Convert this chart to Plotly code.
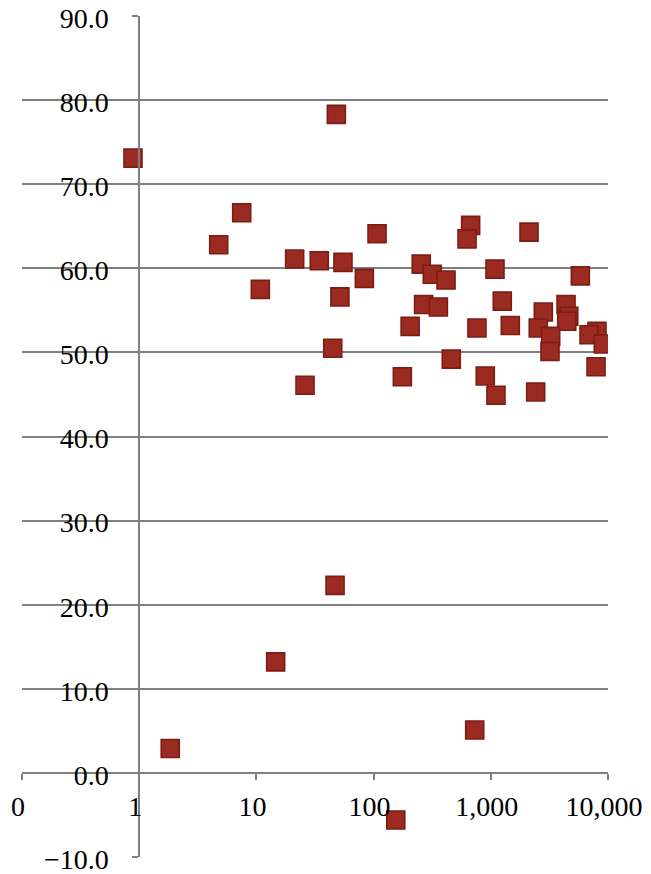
import plotly.graph_objects as go

# Sample measurements: x on a log scale, y in percent
x_values = [0.885, 48.1, 7.49, 4.77, 21.2, 34.4, 54.8, 10.8, 83.4, 51.6,
            44.8, 26.0, 107, 673, 627, 2119, 255, 317, 415, 1086,
            5808, 267, 357, 1253, 4385, 2806, 4627, 4446, 205, 762,
            1467, 2541, 3245, 3200, 8054, 6890, 9120, 7906, 460, 176,
            897, 1107, 2414, 46.9, 14.6, 1.84, 729, 154.6]
y_values = [73.1, 78.3, 66.6, 62.8, 61.1, 60.9, 60.7, 57.5, 58.8, 56.6,
            50.5, 46.1, 64.1, 65.1, 63.5, 64.3, 60.5, 59.3, 58.6, 59.9,
            59.1, 55.7, 55.4, 56.1, 55.7, 54.8, 54.3, 53.7, 53.1, 52.9,
            53.2, 52.9, 51.9, 50.1, 52.5, 52.1, 51.0, 48.3, 49.2, 47.1,
            47.2, 44.9, 45.3, 22.3, 13.2, 2.9, 5.1, -5.6]

x_tick_vals = [0.1, 1, 10, 100, 1000, 10000]
x_tick_text = ["0", "1", "10", "100", "1,000", "10,000"]
y_tick_vals = [-10, 0, 10, 20, 30, 40, 50, 60, 70, 80, 90]

AXIS_GRAY = "#7f7f7f"
FONT = dict(family="Liberation Serif", size=28, color="#000000")

fig = go.Figure(
    go.Scatter(
        x=x_values,
        y=y_values,
        mode="markers",
        marker=dict(symbol="square", size=18, color="#9b2b20",
                    line=dict(color="#7d1c14", width=1.6)),
        hoverinfo="x+y",
    )
)

fig.update_layout(
    width=651,
    height=874,
    margin=dict(l=22, r=43, t=16, b=17, autoexpand=False),
    paper_bgcolor="white",
    plot_bgcolor="white",
    showlegend=False,
    font=FONT,
    xaxis=dict(
        type="log",
        range=[-1, 4],
        anchor="free",
        position=0.1,  # axis crosses at y = 0
        tickvals=x_tick_vals,
        ticktext=x_tick_text,
        showgrid=False,
        showline=True,
        linecolor=AXIS_GRAY,
        linewidth=1.6,
        ticks="outside",
        ticklen=6,
        tickwidth=1.6,
        tickcolor=AXIS_GRAY,
        tickfont=FONT,
        ticklabelstandoff=3,
        ticklabelshift=-4,
        automargin=False,
        zeroline=False,
    ),
    yaxis=dict(
        range=[-10.0001, 90.0001],
        tickmode="array",
        tickvals=y_tick_vals,
        tickformat=".1f",
        anchor="free",
        position=0.2,  # axis crosses at x = 1
        showgrid=True,
        gridcolor=AXIS_GRAY,
        gridwidth=1.6,
        showline=True,
        linecolor=AXIS_GRAY,
        linewidth=1.6,
        ticks="outside",
        ticklen=6,
        tickwidth=1.6,
        tickcolor=AXIS_GRAY,
        tickfont=FONT,
        ticklabelstandoff=18,
        ticklabelshift=2,
        ticklabeloverflow="allow",
        automargin=False,
        zeroline=False,
    ),
)

fig.write_html("out.html")
